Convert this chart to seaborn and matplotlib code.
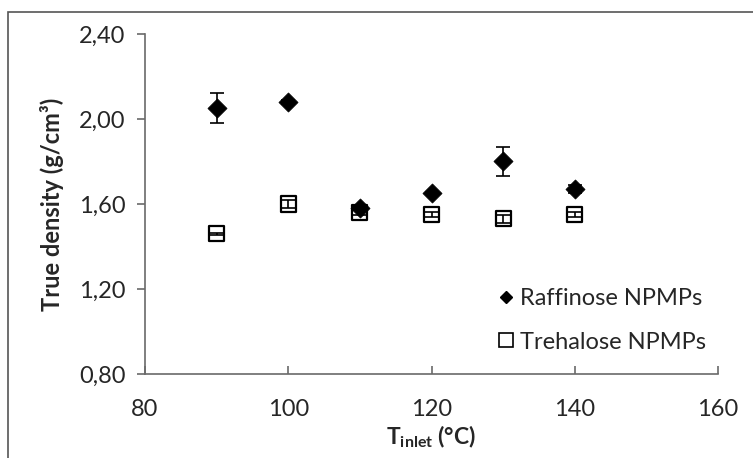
import matplotlib
matplotlib.use("Agg")
import matplotlib.pyplot as plt
from matplotlib.patches import Rectangle
from matplotlib.lines import Line2D
from matplotlib.ticker import FuncFormatter
import seaborn as sns
import pandas as pd

# Inlet temperatures (°C)
t_inlet = [90, 100, 110, 120, 130, 140]
# True density (g/cm3) and standard deviations
raffinose = [2.05, 2.08, 1.58, 1.65, 1.80, 1.67]
raffinose_sd = [0.07, 0.01, 0.01, 0.005, 0.07, 0.02]
trehalose = [1.46, 1.60, 1.56, 1.55, 1.53, 1.55]
trehalose_sd = [0.005, 0.02, 0.01, 0.01, 0.02, 0.01]
series_names = ["Raffinose NPMPs", "Trehalose NPMPs"]
y_ticks = [0.80, 1.20, 1.60, 2.00, 2.40]
x_ticks = [80, 100, 120, 140, 160]

sns.set_style("white")
plt.rcParams["font.family"] = ["Lato", "DejaVu Sans"]
plt.rcParams["mathtext.fontset"] = "custom"
plt.rcParams["mathtext.rm"] = "Lato"
plt.rcParams["mathtext.bf"] = "Lato:bold"

df = pd.DataFrame({
    "T": t_inlet * 2,
    "density": raffinose + trehalose,
    "sd": raffinose_sd + trehalose_sd,
    "series": [series_names[0]] * len(t_inlet) + [series_names[1]] * len(t_inlet),
})

fig = plt.figure(figsize=(7.53, 4.58), dpi=100)
ax = fig.add_axes([0.1926, 0.1834, 0.7609, 0.7424])

# error bars first, markers drawn on top
for name, sub in df.groupby("series", sort=False):
    ax.errorbar(sub["T"], sub["density"], yerr=sub["sd"], fmt="none",
                ecolor="black", elinewidth=1.2, capsize=5, capthick=1.2, zorder=2)

sns.scatterplot(data=df[df.series == series_names[0]], x="T", y="density",
                marker="D", s=95, color="black", edgecolor="black",
                linewidth=0.5, ax=ax, legend=False, zorder=3)
sns.scatterplot(data=df[df.series == series_names[1]], x="T", y="density",
                marker="s", s=120, facecolor="none", edgecolor="black",
                linewidth=1.6, ax=ax, legend=False, zorder=3)

ax.set_xlim(80, 160)
ax.set_ylim(0.80, 2.40)
ax.set_xticks(x_ticks)
ax.set_yticks(y_ticks)
ax.yaxis.set_major_formatter(FuncFormatter(lambda v, p: f"{v:.2f}".replace(".", ",")))

for side in ["top", "right"]:
    ax.spines[side].set_visible(False)
for side in ["left", "bottom"]:
    ax.spines[side].set_color("#6a6a6a")
    ax.spines[side].set_linewidth(1.2)

ax.tick_params(axis="y", direction="out", length=6, width=1.2, color="#6a6a6a",
               labelsize=17, pad=8, left=True)
ax.tick_params(axis="x", direction="in", length=6, width=1.2, color="#6a6a6a",
               labelsize=17, pad=18, bottom=True)

ax.set_xlabel(r"$\mathbf{T_{inlet}}$ (°C)", fontsize=16.5, fontweight="bold", labelpad=3)
ax.set_ylabel("True density (g/cm³)", fontsize=17, fontweight="bold", labelpad=11)

handles = [
    Line2D([], [], marker="D", color="black", linestyle="none", markersize=6.5),
    Line2D([], [], marker="s", markerfacecolor="none", markeredgecolor="black",
           markeredgewidth=1.2, linestyle="none", markersize=10),
]
ax.legend(handles, series_names, loc="lower right", bbox_to_anchor=(1.017, 0.0),
          frameon=False, fontsize=17, labelspacing=0.95, handlelength=0.6,
          handletextpad=0.3)

# outer border of the chart area
fig.add_artist(Rectangle((8 / 753, -0.05), 1.2, (458 - 12) / 458 + 0.05,
                         transform=fig.transFigure, fill=False,
                         edgecolor="#555555", linewidth=1.2, clip_on=False))

fig.savefig("out.png", dpi=100)
